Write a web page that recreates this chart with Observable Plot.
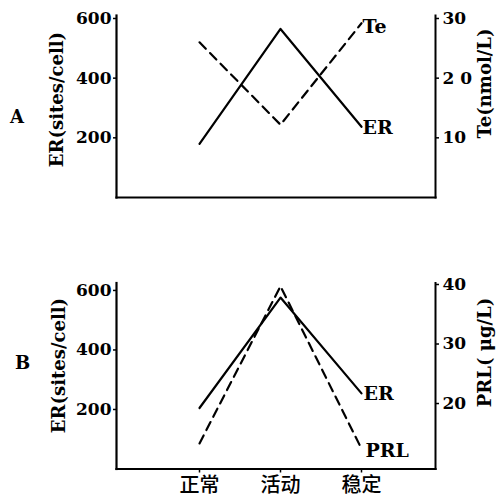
<!DOCTYPE html>
<html><head><meta charset="utf-8">
<script src="https://cdn.jsdelivr.net/npm/d3@7"></script>
<script src="https://cdn.jsdelivr.net/npm/@observablehq/plot@0.6"></script>
<style>
html,body{margin:0;padding:0;background:#fff;}
#chart{width:496px;height:498px;overflow:hidden;}
#chart svg{display:block;}
</style></head><body><div id="chart"></div>
<script>
const stages = ["正常", "活动", "稳定"];
const erA = [180, 565, 237];
const teA = [26, 12.2, 29.2];
const erB = [205, 576, 254];
const prlB = [13.3, 39.7, 12.4];
const leftTicks = [200, 400, 600];
const teTicks = [10, 20, 30];
const teTickLabels = ["10", "2 0", "30"];
const prlTicks = [20, 30, 40];
const prlTickLabels = ["20", "30", "40"];

// dual-axis conversions into ER units
const teToEr = v => v * 20;
const prlToEr = v => v * 20 - 180;

function panel(o) {
  const erData = stages.map((s, i) => ({stage: s, v: o.er[i]}));
  const otData = stages.map((s, i) => ({stage: s, v: o.toEr(o.other[i])}));
  const rightMap = new Map(o.rightTicks.map((t, i) => [o.toEr(t), o.rightLabels[i]]));
  const marks = [
    Plot.frame({anchor: "left", strokeWidth: 2.2}),
    Plot.frame({anchor: "right", strokeWidth: 2}),
    Plot.frame({anchor: "bottom", strokeWidth: 2.2}),
    Plot.axisY({ticks: leftTicks, tickSize: 3, tickPadding: 2, label: null, strokeWidth: 1.5, fontSize: 17}),
    Plot.axisY({anchor: "right", ticks: [...rightMap.keys()], tickFormat: d => rightMap.get(d), tickSize: 3, tickPadding: 4, label: null, strokeWidth: 1.5, fontSize: 17}),
    Plot.line(erData, {x: "stage", y: "v", stroke: "#000", strokeWidth: 2.2}),
    Plot.line(otData, {x: "stage", y: "v", stroke: "#000", strokeWidth: 2.2, strokeDasharray: "9,6"}),
    Plot.text([{stage: stages[2], v: o.er[2], label: "ER"}], {x: "stage", y: "v", text: "label", textAnchor: "start", dx: o.erDx, dy: o.erDy, fontSize: 19}),
    Plot.text([{stage: stages[2], v: o.toEr(o.other[2]), label: o.otherName}], {x: "stage", y: "v", text: "label", textAnchor: "start", dx: o.otDx, dy: o.otDy, fontSize: 19}),
    Plot.text(["ER(sites/cell)"], {frameAnchor: "left", textAnchor: "middle", rotate: -90, dx: o.ltDx, dy: o.ltDy, fontSize: 18}),
    Plot.text([o.rightTitle], {frameAnchor: "right", textAnchor: "middle", rotate: -90, dx: o.rtDx, dy: o.rtDy, fontSize: 18}),
    Plot.text([o.letter], {frameAnchor: "left", textAnchor: "middle", dx: o.lDx, dy: o.lDy, fontSize: 18})
  ];
  if (o.showX) marks.push(Plot.axisX({tickSize: 4, tickPadding: 5, label: null, fontFamily: "'Noto Sans CJK SC'", fontSize: 20, fontWeight: "500", strokeWidth: 1.5}));
  return Plot.plot({
    width: 496, height: o.height,
    marginTop: o.mt, marginBottom: o.mb, marginLeft: 116, marginRight: 61,
    style: {fontFamily: "'DejaVu Serif', serif", fontWeight: "bold", fontSize: "17px", color: "#000", background: "#fff", overflow: "visible"},
    x: {type: "point", domain: stages, range: [199, 361], padding: 0, axis: o.showX ? undefined : null},
    y: {domain: [0, o.yMax]},
    marks
  });
}

const chart = document.getElementById("chart");
chart.append(panel({
  height: 250, mt: 15, mb: 53, yMax: 610,
  er: erA, other: teA, toEr: teToEr, otherName: "Te",
  rightTicks: teTicks, rightLabels: teTickLabels, rightTitle: "Te(nmol/L)",
  letter: "A", showX: false,
  erDx: 1, erDy: 1, otDx: 1, otDy: 4,
  ltDx: -59, ltDy: -7, rtDx: 50, rtDy: -23, lDx: -99.5, lDy: 11
}));
chart.append(panel({
  height: 248, mt: 32.5, mb: 29.5, yMax: 625,
  er: erB, other: prlB, toEr: prlToEr, otherName: "PRL",
  rightTicks: prlTicks, rightLabels: prlTickLabels, rightTitle: "PRL( μg/L)",
  letter: "B", showX: true,
  erDx: 2, erDy: 0, otDx: 4, otDy: 2,
  ltDx: -57, ltDy: -10.5, rtDx: 50, rtDy: -23.5, lDx: -94, lDy: -12.5
}));
</script></body></html>
